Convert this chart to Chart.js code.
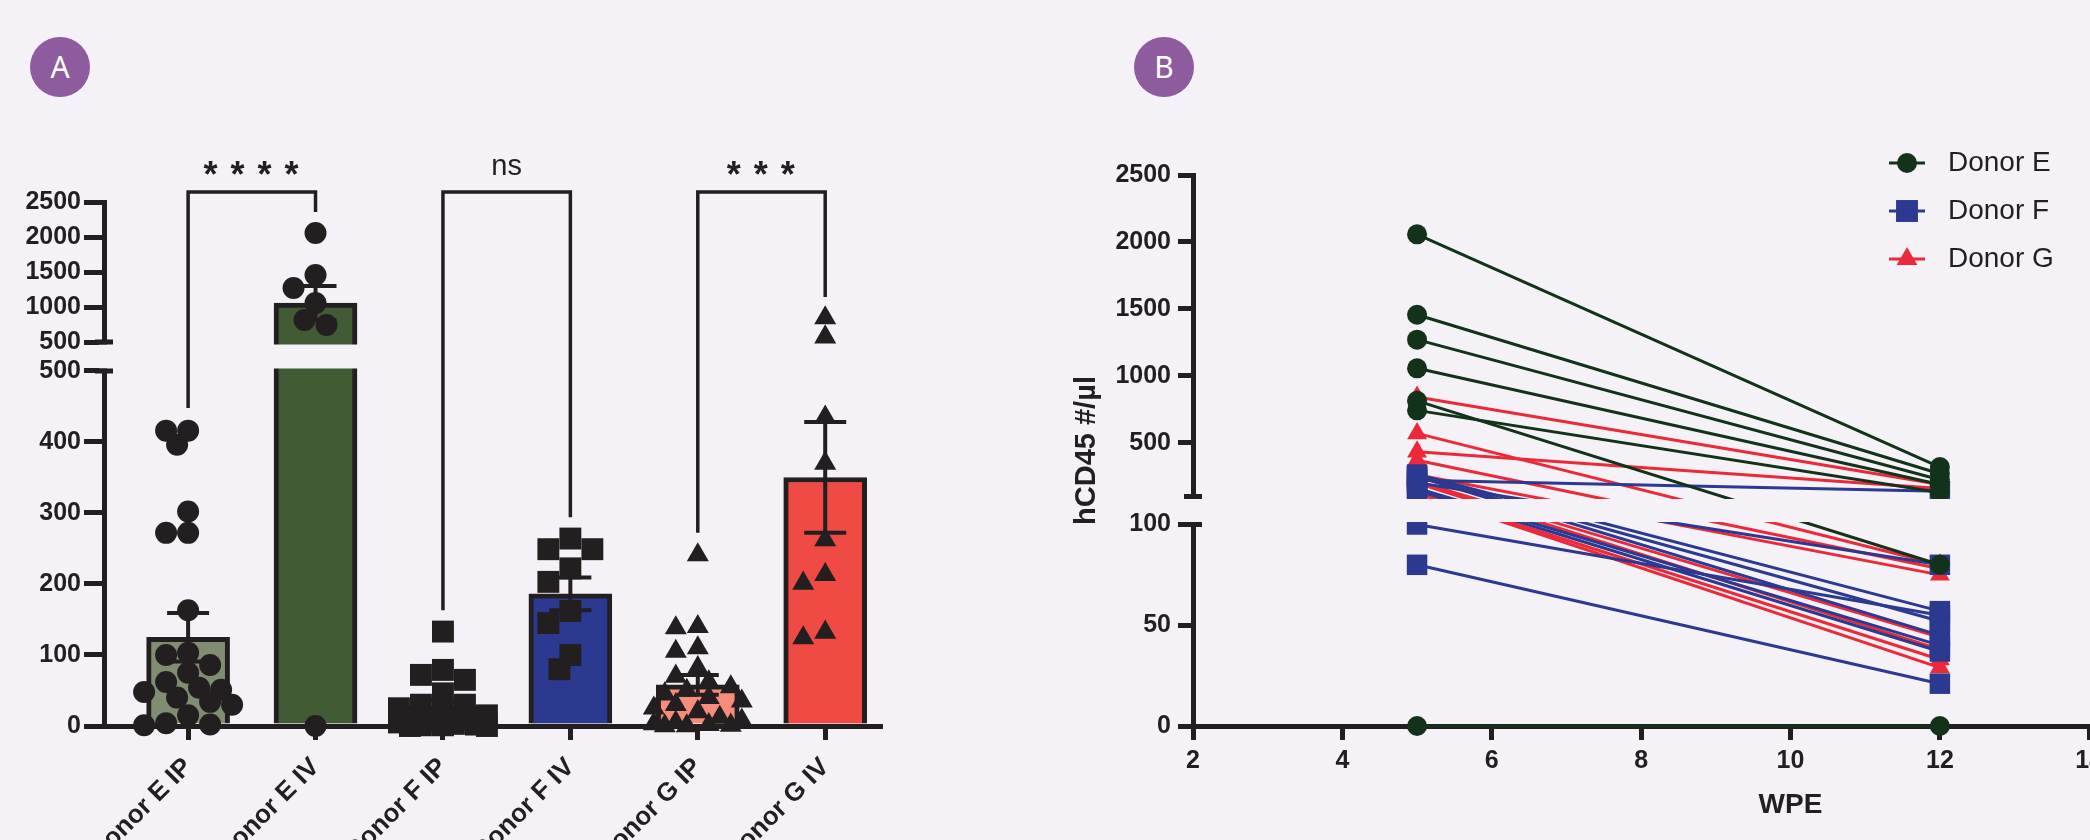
<!DOCTYPE html>
<html>
<head>
<meta charset="utf-8">
<title>hCD45 engraftment by donor</title>
<script src="https://cdn.jsdelivr.net/npm/chart.js@4.4.1/dist/chart.umd.min.js"></script>
<style>
  html, body { margin: 0; padding: 0; background: #f4f2f6; overflow: hidden; width: 2090px; height: 840px; position: relative; }
  .wrap { position: absolute; top: 0; height: 840px; }
  #wrapA { left: 0; width: 1000px; }
  #wrapB { left: 1040px; width: 1400px; }
  .badge { position: absolute; width: 60px; height: 60px; border-radius: 50%; background: #8d5b9e; color: #fff;
           font: 30px "Noto Sans", sans-serif; line-height: 60px; text-align: center; }
</style>
</head>
<body>
<div class="badge" style="left:30px;top:37px">A</div>
<div class="badge" style="left:1134px;top:37px">B</div>
<div class="wrap" id="wrapA"><canvas id="chartA" width="1000" height="840"></canvas></div>
<div class="wrap" id="wrapB"><canvas id="chartB" width="1400" height="840"></canvas></div>
<script>
const INK = '#231f20';
const BG = '#f4f2f6';

// Panel A - groups, bar means and SEM
const groups = ['Donor E IP', 'Donor E IV', 'Donor F IP', 'Donor F IV', 'Donor G IP', 'Donor G IV'];
const barMeans = [125, 1057, 28, 186, 58, 350];
const barSems = [34, 243, 8, 23, 14, 78];
const barColors = ['#808d70', '#415b35', '#2b3990', '#2b3990', '#f58d7a', '#ef4a44'];

// individual mice (hCD45 #/ul)
const ipE = [416, 416, 396, 302, 272, 272, 163, 103, 100, 86, 75, 62, 54, 51, 48, 40, 34, 30, 15, 4, 2, 1];
const ivE = [2057, 1457, 1271, 1057, 814, 743, 0];
const ipF = [133, 79, 72, 65, 46, 30, 30, 25, 20, 15, 12, 10, 8, 5, 3, 2, 1, 1, 0, 0];
const ivF = [264, 249, 249, 222, 203, 162, 145, 100, 80];
const ipG = [241, 140, 138, 110, 105, 82, 70, 62, 55, 50, 45, 40, 35, 30, 25, 20, 12, 8, 5, 3, 2, 1, 0, 0];
const ivG = [843, 571, 435, 370, 262, 213, 201, 132, 124];

const yTicksLowA = [0, 100, 200, 300, 400, 500];
const yTicksHighA = [500, 1000, 1500, 2000, 2500];

// significance brackets
const sigPairs = [[0, 1], [2, 3], [4, 5]];
const sigLabels = ['* * * *', 'ns', '* * *'];
const sigLegEnds = [[448, 2357], [163, 294], [272, 1143]];
const sigTop = 2643;

// Panel B - same IV mice at week 5 and week 12
const weeks = [5, 12];
const donors = ['Donor E', 'Donor F', 'Donor G'];
const wk12E = [320, 270, 225, 190, 80, 130, 0];
const wk12F = [57, 52, 45, 140, 80, 40, 37, 55, 21];
const wk12G = [190, 80, 160, 78, 75, 44, 38, 33, 29];
const yTicksLowB = [0, 50, 100];
const yTicksHighB = [500, 1000, 1500, 2000, 2500];

const donorColors = ['#13321a', '#2b3990', '#ed2939'];
const donorStyles = ['circle', 'rect', 'triangle'];

Chart.defaults.font.family = '"Liberation Sans", Arial, sans-serif';
Chart.defaults.color = INK;

// linear scale with one break: values below brk.at use the lower part of the axis,
// values above it the upper part
class BrokenScale extends Chart.LinearScale {
  static id = 'broken';
  static defaults = { ticks: { callback: v => String(v) } };
  toDecimal(v, upper) {
    const b = this.options.brk;
    if (v < b.at || (v === b.at && !upper)) return (v - this.min) / (b.at - this.min) * b.lowEnd;
    return b.highStart + (v - b.at) / (this.max - b.at) * (1 - b.highStart);
  }
  getPixelForValue(v, upper) {
    if (v === null || v === undefined || isNaN(v)) return NaN;
    return this.getPixelForDecimal(this.toDecimal(v, upper === true));
  }
  getValueForPixel(px) {
    const b = this.options.brk;
    const d = this.getDecimalForPixel(px);
    if (d <= b.lowEnd) return this.min + d / b.lowEnd * (b.at - this.min);
    return b.at + (d - b.highStart) / (1 - b.highStart) * (this.max - b.at);
  }
  getPixelForTick(i) {
    const t = this.ticks[i];
    return t ? this.getPixelForValue(t.value, t.upper === true) : null;
  }
}
Chart.register(BrokenScale);

function brokenTicks(low, high) {
  return low.map(v => ({ value: v })).concat(high.map(v => ({ value: v, upper: true })));
}

const errorBars = {
  id: 'errorBars',
  afterDatasetsDraw(chart) {
    const { ctx, scales: { x, y } } = chart;
    ctx.save();
    ctx.strokeStyle = INK;
    ctx.lineWidth = 4;
    barMeans.forEach((m, i) => {
      const cx = x.getPixelForValue(i);
      const hi = y.getPixelForValue(m + barSems[i]);
      const lo = y.getPixelForValue(Math.max(0, m - barSems[i]));
      ctx.beginPath();
      ctx.moveTo(cx, lo); ctx.lineTo(cx, hi);
      ctx.moveTo(cx - 21, hi); ctx.lineTo(cx + 21, hi);
      ctx.moveTo(cx - 21, lo); ctx.lineTo(cx + 21, lo);
      ctx.stroke();
    });
    ctx.restore();
  }
};

// blank band between the two parts of the y axis, with end caps
const axisBreak = {
  id: 'axisBreak',
  afterDatasetsDraw(chart) {
    const { ctx, chartArea: a, scales: { y } } = chart;
    const b = y.options.brk;
    const w = y.options.border.width;
    const yLow = y.getPixelForValue(b.at);
    const yHigh = y.getPixelForValue(b.at, true);
    ctx.save();
    ctx.fillStyle = BG;
    ctx.fillRect(a.left - w, yHigh + w / 2, a.right - a.left + 2 * w, yLow - yHigh - w);
    ctx.strokeStyle = INK;
    ctx.lineWidth = w;
    ctx.beginPath();
    [yLow, yHigh].forEach(py => { ctx.moveTo(a.left - 9, py); ctx.lineTo(a.left + 9, py); });
    ctx.stroke();
    ctx.restore();
  }
};

const sigBrackets = {
  id: 'sigBrackets',
  afterDraw(chart) {
    const { ctx, scales: { x, y } } = chart;
    const top = y.getPixelForValue(sigTop, true);
    ctx.save();
    ctx.strokeStyle = INK;
    ctx.fillStyle = INK;
    ctx.lineWidth = 3.5;
    ctx.textAlign = 'center';
    sigPairs.forEach(([a, b], i) => {
      const xa = x.getPixelForValue(a), xb = x.getPixelForValue(b);
      ctx.beginPath();
      ctx.moveTo(xa, y.getPixelForValue(sigLegEnds[i][0]));
      ctx.lineTo(xa, top);
      ctx.lineTo(xb, top);
      ctx.lineTo(xb, y.getPixelForValue(sigLegEnds[i][1]));
      ctx.stroke();
      const stars = sigLabels[i].indexOf('*') >= 0;
      ctx.font = stars ? 'bold 36px "Liberation Sans", Arial' : '29px "Liberation Sans", Arial';
      ctx.letterSpacing = stars ? '1.5px' : '0px';
      ctx.fillText(sigLabels[i], (xa + xb) / 2, top - (stars ? 5 : 17));
    });
    ctx.restore();
  }
};

const donorLegend = {
  id: 'donorLegend',
  afterDraw(chart, args, opts) {
    const ctx = chart.ctx;
    donors.forEach((name, i) => {
      const y = opts.y + i * opts.gap;
      ctx.save();
      ctx.strokeStyle = donorColors[i];
      ctx.fillStyle = donorColors[i];
      ctx.lineWidth = 3;
      ctx.beginPath();
      ctx.moveTo(opts.x - 18, y); ctx.lineTo(opts.x + 18, y);
      ctx.stroke();
      Chart.helpers.drawPoint(ctx, { pointStyle: donorStyles[i], radius: opts.radius[i], borderWidth: 0, rotation: 0 }, opts.x, y);
      ctx.fillStyle = INK;
      ctx.font = '28px "Liberation Sans", Arial';
      ctx.textBaseline = 'middle';
      ctx.fillText(name, opts.x + 41, y);
      ctx.restore();
    });
  }
};

// ---------- Panel A ----------
const pointGroups = [ipE, ivE, ipF, ivF, ipG, ivG];
const ptStyles = ['circle', 'circle', 'rect', 'rect', 'triangle', 'triangle'];
const ptRadius = [11, 11, 15.5, 15.5, 12.7, 12.7];

const pointSets = pointGroups.map((vals, i) => ({
  type: 'scatter',
  data: vals.map(v => ({ x: i, y: v })),
  pointStyle: ptStyles[i],
  pointRadius: ptRadius[i],
  backgroundColor: INK,
  borderWidth: 0,
  clip: false,
  order: 1
}));

const axisFont = { size: 25, weight: 'bold' };

const chartA = new Chart(document.getElementById('chartA'), {
  type: 'bar',
  data: {
    datasets: [{
      type: 'bar',
      data: barMeans.map((m, i) => ({ x: i, y: m })),
      backgroundColor: barColors,
      borderColor: INK,
      borderWidth: 5,
      barThickness: 83,
      order: 2
    }].concat(pointSets)
  },
  options: {
    responsive: false,
    animation: false,
    devicePixelRatio: 1,
    events: [],
    layout: { padding: { left: 0, top: 202, right: 120, bottom: 0 } },
    plugins: { legend: { display: false }, tooltip: { enabled: false } },
    scales: {
      x: {
        type: 'linear',
        offset: false,
        min: -0.66,
        max: 5.43,
        afterBuildTicks: s => { s.ticks = groups.map((g, i) => ({ value: i })); },
        afterFit: s => { s.height = 114; },
        ticks: { autoSkip: false, minRotation: 45, maxRotation: 45, font: { size: 26, weight: 'bold' }, color: INK, padding: 12,
                 callback: v => groups[v] },
        grid: { offset: false, drawOnChartArea: false, tickLength: 14, tickWidth: 5, lineWidth: 5, tickColor: INK },
        border: { width: 5, color: INK }
      },
      y: {
        type: 'broken',
        min: 0,
        max: 2500,
        brk: { at: 500, lowEnd: 0.6775, highStart: 0.7328 },
        afterBuildTicks: s => { s.ticks = brokenTicks(yTicksLowA, yTicksHighA); },
        afterFit: s => { s.width = 104; },
        ticks: { autoSkip: false, font: axisFont, color: INK, padding: 3, callback: v => String(v) },
        grid: { drawOnChartArea: false, tickLength: 20, tickWidth: 5, lineWidth: 5, tickColor: INK },
        border: { width: 5, color: INK }
      }
    }
  },
  plugins: [errorBars, axisBreak, sigBrackets]
});

// spread the dots of each group sideways so they do not sit on top of each other
function swarm(chart, vals, cat, size) {
  const xs = chart.scales.x, ys = chart.scales.y;
  const unit = xs.getPixelForValue(1) - xs.getPixelForValue(0);
  const placed = [];
  return vals.map(v => {
    const py = ys.getPixelForValue(v);
    let best = 0, bestD = -1;
    for (const k of [0, -1, 1, -2, 2, -3, 3, -4, 4]) {
      const dx = k * size * 0.5;
      let dmin = Infinity;
      placed.forEach(p => { dmin = Math.min(dmin, Math.hypot(dx - p.dx, py - p.py)); });
      if (dmin >= size * 0.8) { best = dx; break; }
      if (dmin > bestD) { bestD = dmin; best = dx; }
    }
    placed.push({ dx: best, py });
    return { x: cat + best / unit, y: v };
  });
}
pointGroups.forEach((vals, i) => { chartA.data.datasets[i + 1].data = swarm(chartA, vals, i, 22); });
chartA.update();

// ---------- Panel B ----------
const wk5Sets = [ivE, ivF, ivG];
const wk12Sets = [wk12E, wk12F, wk12G];
const lineRadius = [10, 14.5, 11.5];
const lineSets = [];
wk5Sets.forEach((vals, d) => {
  vals.forEach((v, m) => {
    lineSets.push({
      label: donors[d],
      data: [{ x: weeks[0], y: v }, { x: weeks[1], y: wk12Sets[d][m] }],
      borderColor: donorColors[d],
      backgroundColor: donorColors[d],
      borderWidth: 3,
      pointStyle: donorStyles[d],
      pointRadius: lineRadius[d],
      pointBorderWidth: 0,
      tension: 0,
      clip: false
    });
  });
});

new Chart(document.getElementById('chartB'), {
  type: 'line',
  data: { datasets: lineSets },
  options: {
    responsive: false,
    animation: false,
    devicePixelRatio: 1,
    events: [],
    layout: { padding: { left: 0, top: 175, right: 52, bottom: 0 } },
    plugins: {
      legend: { display: false },
      tooltip: { enabled: false },
      donorLegend: { x: 867, y: 163, gap: 48, radius: [10, 15.5, 12] }
    },
    scales: {
      x: {
        type: 'linear',
        min: 2,
        max: 18,
        afterFit: s => { s.height = 114; },
        ticks: { stepSize: 2, font: axisFont, color: INK, padding: 6, maxRotation: 0 },
        grid: { drawOnChartArea: false, tickLength: 14, tickWidth: 5, lineWidth: 5, tickColor: INK },
        border: { width: 5, color: INK },
        title: { display: true, text: 'WPE', color: INK, font: { size: 28, weight: 'bold' }, padding: { top: 0, bottom: 18 } }
      },
      y: {
        type: 'broken',
        min: 0,
        max: 2500,
        brk: { at: 100, lowEnd: 0.3657, highStart: 0.4165 },
        afterBuildTicks: s => { s.ticks = brokenTicks(yTicksLowB, yTicksHighB); },
        afterFit: s => { s.width = 153; },
        ticks: { autoSkip: false, font: axisFont, color: INK, padding: 7, callback: v => String(v) },
        grid: { drawOnChartArea: false, tickLength: 15, tickWidth: 5, lineWidth: 5, tickColor: INK },
        border: { width: 5, color: INK },
        title: { display: true, text: 'hCD45 #/µl', color: INK, font: { size: 29, weight: 'bold' }, padding: { top: 30, bottom: 0 } }
      }
    }
  },
  plugins: [axisBreak, donorLegend]
});
</script>
</body>
</html>
